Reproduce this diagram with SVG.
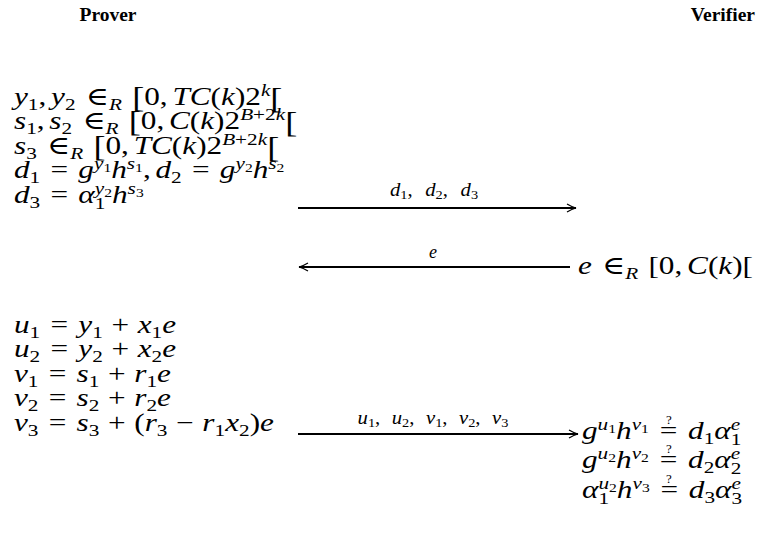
<svg xmlns="http://www.w3.org/2000/svg" width="757" height="546" viewBox="0 0 757 546">
<defs>
<style>
text{font-family:"Liberation Serif","DejaVu Serif",serif;font-size:25px;fill:#000}
.h{font-weight:bold;font-size:19.5px}
.i{font-style:italic}
.s{font-size:17px}
.ss{font-size:12.5px}
.b{font-size:29px}
.l{font-size:18px}
.ls{font-size:12.5px}
.q{font-size:13px}
.conn line{stroke:#000;stroke-width:1.8}
</style>
<marker id="ah" markerWidth="12" markerHeight="10" refX="10" refY="5" orient="auto" markerUnits="userSpaceOnUse">
<path d="M1,1 Q6,4 10,5 Q6,6 1,9" fill="none" stroke="#000" stroke-width="1.2"/>
</marker>
</defs>
<rect width="757" height="546" fill="#fff"/>
<g id="headers">
<text class="h" x="108" y="21" text-anchor="middle">Prover</text>
<text class="h" x="755" y="21" text-anchor="end">Verifier</text>
</g>
<g id="prover-commit">
<text transform="translate(14,105) scale(1.25,1)"><tspan class="i">y</tspan><tspan class="s" dy="5">1</tspan><tspan dy="-5">,</tspan><tspan class="i" dx="3.8">y</tspan><tspan class="s" dy="5">2</tspan><tspan dx="8.2" dy="-5">∈</tspan><tspan class="s i" dy="5">R</tspan><tspan class="b" dx="8.2" dy="-3">[</tspan><tspan dy="-2">0,</tspan><tspan class="i" dx="3.8">TC</tspan><tspan>(</tspan><tspan class="i">k</tspan><tspan>)2</tspan><tspan class="s i" dy="-9">k</tspan><tspan class="b" dy="12">[</tspan></text>
<text transform="translate(14,129) scale(1.25,1)"><tspan class="i">s</tspan><tspan class="s" dy="5">1</tspan><tspan dy="-5">,</tspan><tspan class="i" dx="3.8">s</tspan><tspan class="s" dy="5">2</tspan><tspan dx="8.2" dy="-5">∈</tspan><tspan class="s i" dy="5">R</tspan><tspan class="b" dx="8.2" dy="-3">[</tspan><tspan dy="-2">0,</tspan><tspan class="i" dx="3.8">C</tspan><tspan>(</tspan><tspan class="i">k</tspan><tspan>)2</tspan><tspan class="s i" dy="-9">B</tspan><tspan class="s">+2</tspan><tspan class="s i">k</tspan><tspan class="b" dy="12">[</tspan></text>
<text transform="translate(14,154) scale(1.25,1)"><tspan class="i">s</tspan><tspan class="s" dy="5">3</tspan><tspan dx="8.2" dy="-5">∈</tspan><tspan class="s i" dy="5">R</tspan><tspan class="b" dx="8.2" dy="-3">[</tspan><tspan dy="-2">0,</tspan><tspan class="i" dx="3.8">TC</tspan><tspan>(</tspan><tspan class="i">k</tspan><tspan>)2</tspan><tspan class="s i" dy="-9">B</tspan><tspan class="s">+2</tspan><tspan class="s i">k</tspan><tspan class="b" dy="12">[</tspan></text>
<text transform="translate(14,178) scale(1.25,1)"><tspan class="i">d</tspan><tspan class="s" dy="5">1</tspan><tspan dx="8.2" dy="-5">=</tspan><tspan class="i" dx="8.2">g</tspan><tspan class="s i" dy="-9">y</tspan><tspan class="ss" dy="3">1</tspan><tspan class="i" dy="6">h</tspan><tspan class="s i" dy="-9">s</tspan><tspan class="ss" dy="3">1</tspan><tspan dy="6">,</tspan><tspan class="i" dx="3.8">d</tspan><tspan class="s" dy="5">2</tspan><tspan dx="8.2" dy="-5">=</tspan><tspan class="i" dx="8.2">g</tspan><tspan class="s i" dy="-9">y</tspan><tspan class="ss" dy="3">2</tspan><tspan class="i" dy="6">h</tspan><tspan class="s i" dy="-9">s</tspan><tspan class="ss" dy="3">2</tspan></text>
<text transform="translate(14,203) scale(1.25,1)"><tspan class="i">d</tspan><tspan class="s" dy="5">3</tspan><tspan dx="8.2" dy="-5">=</tspan><tspan class="i" dx="8.2">α</tspan><tspan class="s" dy="6">1</tspan><tspan class="s i" dx="-8.5" dy="-15">y</tspan><tspan class="ss" dy="3">2</tspan><tspan class="i" dy="6">h</tspan><tspan class="s i" dy="-9">s</tspan><tspan class="ss" dy="3">3</tspan></text>
</g>
<g id="verifier-challenge">
<text transform="translate(578,274) scale(1.25,1)"><tspan class="i">e</tspan><tspan dx="8.2">∈</tspan><tspan class="s i" dy="5">R</tspan><tspan dx="8.2" dy="-5">[0,</tspan><tspan class="i" dx="3.8">C</tspan><tspan>(</tspan><tspan class="i">k</tspan><tspan>)[</tspan></text>
</g>
<g id="prover-response">
<text transform="translate(14,333) scale(1.25,1)"><tspan class="i">u</tspan><tspan class="s" dy="5">1</tspan><tspan dx="8.2" dy="-5">=</tspan><tspan class="i" dx="8.2">y</tspan><tspan class="s" dy="5">1</tspan><tspan dx="6.9" dy="-5">+</tspan><tspan class="i" dx="6.9">x</tspan><tspan class="s" dy="5">1</tspan><tspan class="i" dy="-5">e</tspan></text>
<text transform="translate(14,357) scale(1.25,1)"><tspan class="i">u</tspan><tspan class="s" dy="5">2</tspan><tspan dx="8.2" dy="-5">=</tspan><tspan class="i" dx="8.2">y</tspan><tspan class="s" dy="5">2</tspan><tspan dx="6.9" dy="-5">+</tspan><tspan class="i" dx="6.9">x</tspan><tspan class="s" dy="5">2</tspan><tspan class="i" dy="-5">e</tspan></text>
<text transform="translate(14,382) scale(1.25,1)"><tspan class="i">v</tspan><tspan class="s" dy="5">1</tspan><tspan dx="8.2" dy="-5">=</tspan><tspan class="i" dx="8.2">s</tspan><tspan class="s" dy="5">1</tspan><tspan dx="6.9" dy="-5">+</tspan><tspan class="i" dx="6.9">r</tspan><tspan class="s" dy="5">1</tspan><tspan class="i" dy="-5">e</tspan></text>
<text transform="translate(14,406) scale(1.25,1)"><tspan class="i">v</tspan><tspan class="s" dy="5">2</tspan><tspan dx="8.2" dy="-5">=</tspan><tspan class="i" dx="8.2">s</tspan><tspan class="s" dy="5">2</tspan><tspan dx="6.9" dy="-5">+</tspan><tspan class="i" dx="6.9">r</tspan><tspan class="s" dy="5">2</tspan><tspan class="i" dy="-5">e</tspan></text>
<text transform="translate(14,431) scale(1.25,1)"><tspan class="i">v</tspan><tspan class="s" dy="5">3</tspan><tspan dx="8.2" dy="-5">=</tspan><tspan class="i" dx="8.2">s</tspan><tspan class="s" dy="5">3</tspan><tspan dx="6.9" dy="-5">+</tspan><tspan dx="6.9">(</tspan><tspan class="i">r</tspan><tspan class="s" dy="5">3</tspan><tspan dx="6.9" dy="-5">−</tspan><tspan class="i" dx="6.9">r</tspan><tspan class="s" dy="5">1</tspan><tspan class="i" dy="-5">x</tspan><tspan class="s" dy="5">2</tspan><tspan dy="-5">)</tspan><tspan class="i">e</tspan></text>
</g>
<g id="verifier-check">
<text transform="translate(582,439) scale(1.25,1)"><tspan class="i">g</tspan><tspan class="s i" dy="-9">u</tspan><tspan class="ss" dy="3">1</tspan><tspan class="i" dy="6">h</tspan><tspan class="s i" dy="-9">v</tspan><tspan class="ss" dy="3">1</tspan><tspan dx="8.6" dy="6">=</tspan><tspan class="i" dx="8.6">d</tspan><tspan class="s" dy="5">1</tspan><tspan class="i" dy="-5">α</tspan><tspan class="s" dy="6">1</tspan><tspan class="s i" dx="-8.5" dy="-15">e</tspan></text>
<text class="q" x="669" y="424" text-anchor="middle">?</text>
<text transform="translate(582,468) scale(1.25,1)"><tspan class="i">g</tspan><tspan class="s i" dy="-9">u</tspan><tspan class="ss" dy="3">2</tspan><tspan class="i" dy="6">h</tspan><tspan class="s i" dy="-9">v</tspan><tspan class="ss" dy="3">2</tspan><tspan dx="8.6" dy="6">=</tspan><tspan class="i" dx="8.6">d</tspan><tspan class="s" dy="5">2</tspan><tspan class="i" dy="-5">α</tspan><tspan class="s" dy="6">2</tspan><tspan class="s i" dx="-8.5" dy="-15">e</tspan></text>
<text class="q" x="669" y="453" text-anchor="middle">?</text>
<text transform="translate(582,498) scale(1.25,1)"><tspan class="i">α</tspan><tspan class="s" dy="6">1</tspan><tspan class="s i" dx="-8.5" dy="-15">u</tspan><tspan class="ss" dy="3">2</tspan><tspan class="i" dy="6">h</tspan><tspan class="s i" dy="-9">v</tspan><tspan class="ss" dy="3">3</tspan><tspan dx="8.6" dy="6">=</tspan><tspan class="i" dx="8.6">d</tspan><tspan class="s" dy="5">3</tspan><tspan class="i" dy="-5">α</tspan><tspan class="s" dy="6">3</tspan><tspan class="s i" dx="-8.5" dy="-15">e</tspan></text>
<text class="q" x="669" y="483" text-anchor="middle">?</text>
</g>
<g class="conn" id="connectors">
<line x1="298" y1="208" x2="576" y2="208" marker-end="url(#ah)"/>
<text class="l" x="434" y="196" text-anchor="middle" transform="translate(434,0) scale(1.15,1) translate(-434,0)"><tspan class="i">d</tspan><tspan class="ls" dy="3">1</tspan><tspan dy="-3">,</tspan><tspan class="i" dx="11">d</tspan><tspan class="ls" dy="3">2</tspan><tspan dy="-3">,</tspan><tspan class="i" dx="11">d</tspan><tspan class="ls" dy="3">3</tspan></text>
<line x1="570" y1="267" x2="299" y2="267" marker-end="url(#ah)"/>
<text class="l i" x="433" y="258" text-anchor="middle">e</text>
<line x1="298" y1="434" x2="578" y2="434" marker-end="url(#ah)"/>
<text class="l" x="433" y="424" text-anchor="middle" transform="translate(433,0) scale(1.15,1) translate(-433,0)"><tspan class="i">u</tspan><tspan class="ls" dy="3">1</tspan><tspan dy="-3">,</tspan><tspan class="i" dx="10">u</tspan><tspan class="ls" dy="3">2</tspan><tspan dy="-3">,</tspan><tspan class="i" dx="10">v</tspan><tspan class="ls" dy="3">1</tspan><tspan dy="-3">,</tspan><tspan class="i" dx="10">v</tspan><tspan class="ls" dy="3">2</tspan><tspan dy="-3">,</tspan><tspan class="i" dx="10">v</tspan><tspan class="ls" dy="3">3</tspan></text>
</g>
</svg>
